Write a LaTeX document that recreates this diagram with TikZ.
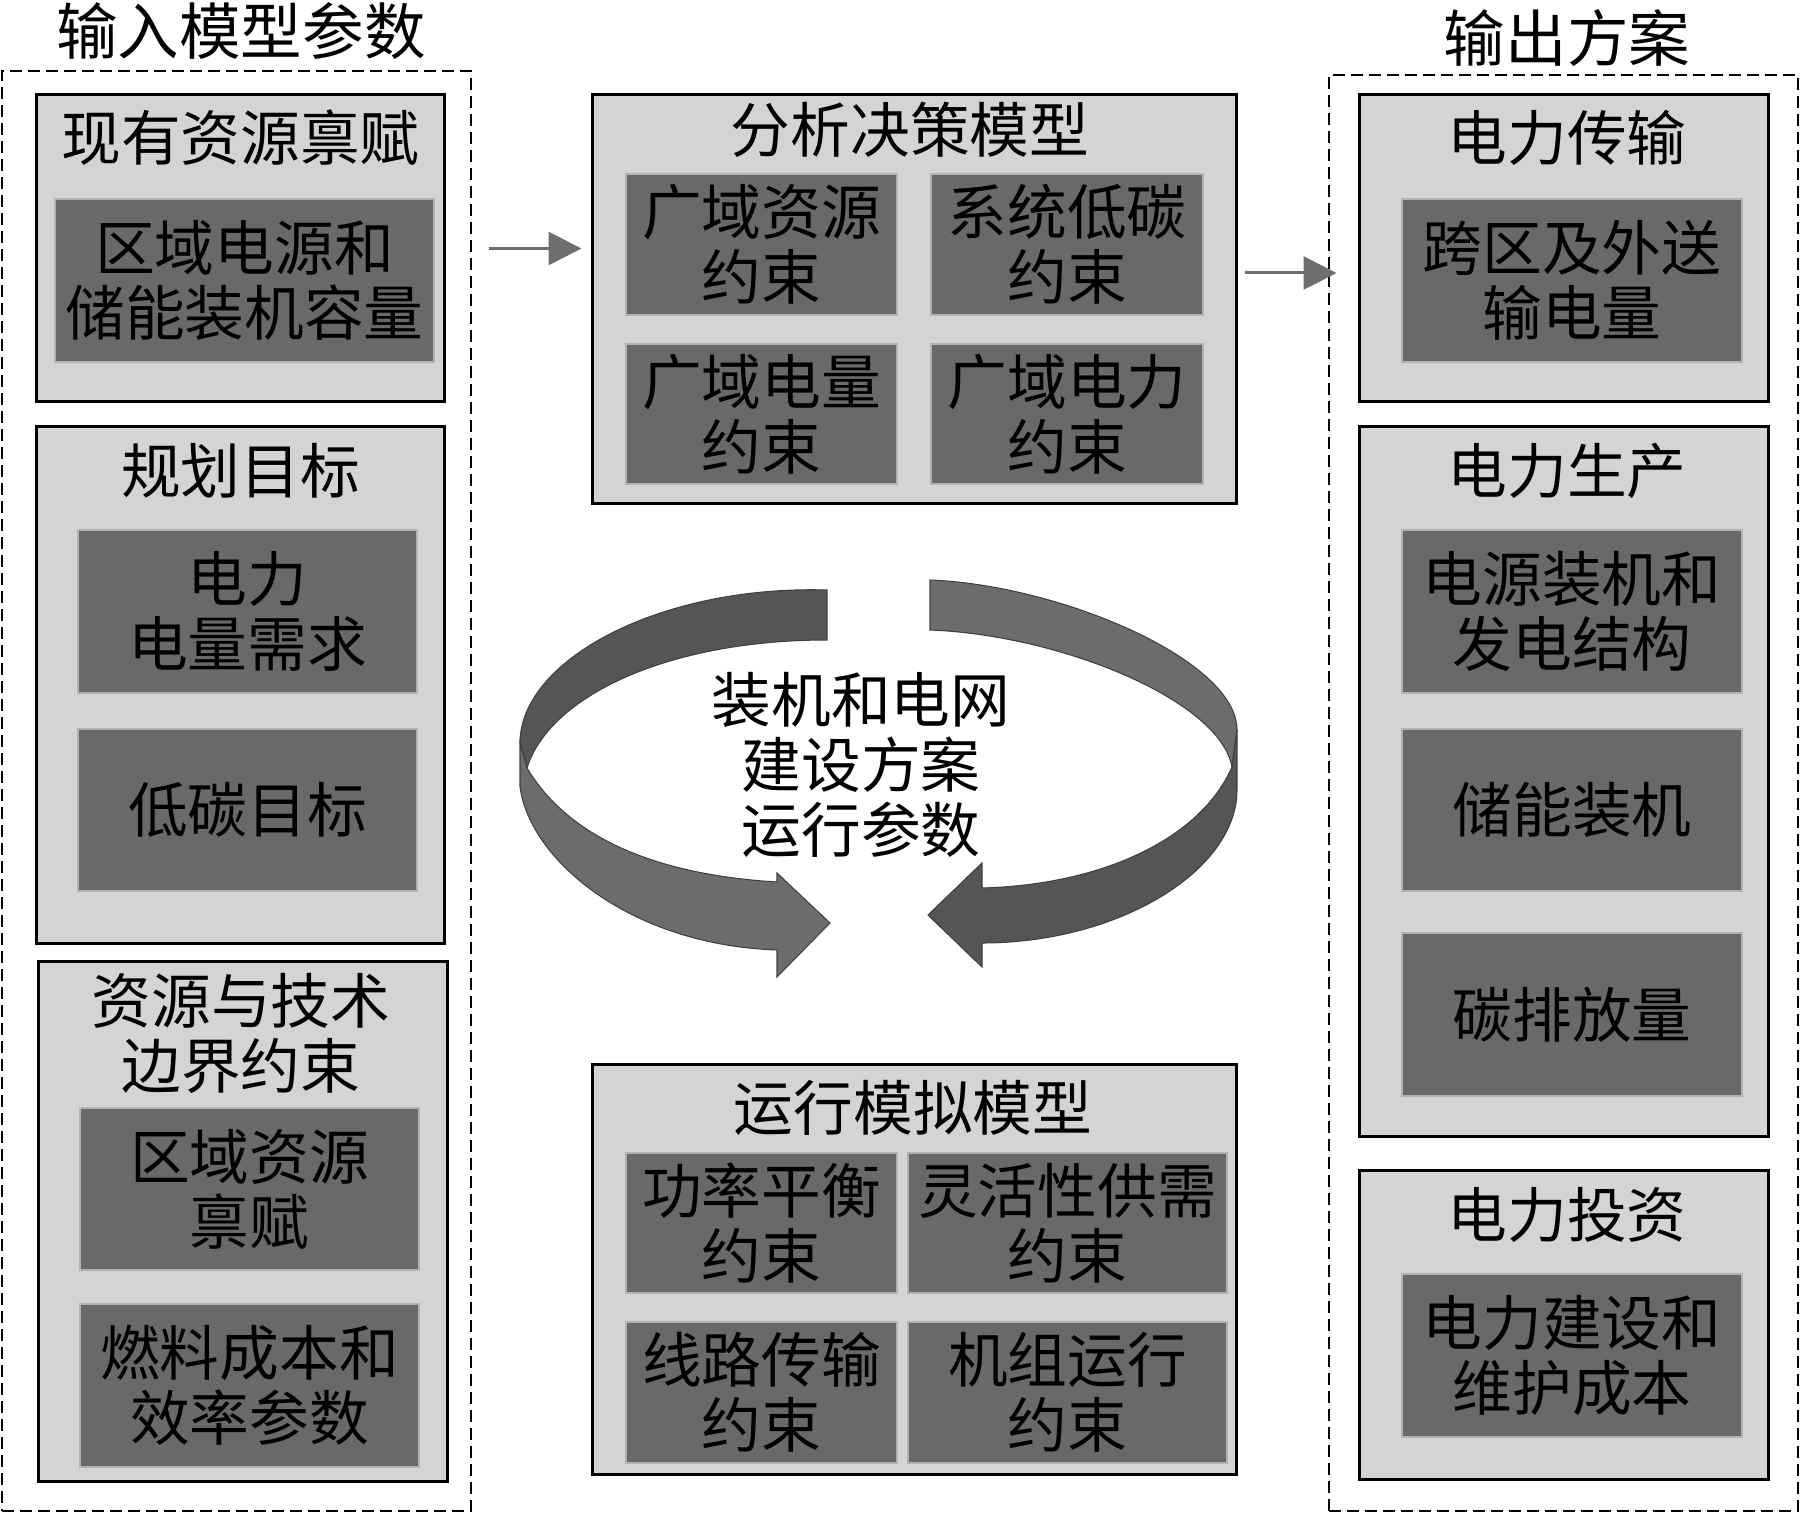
\documentclass[tikz,border=0pt]{standalone}
\usepackage{fontspec}
\setmainfont{Noto Sans CJK SC}
\usetikzlibrary{arrows.meta}
\definecolor{boxgray}{HTML}{D4D4D4}
\definecolor{cellgray}{HTML}{696969}
\definecolor{ribdark}{HTML}{555555}
\definecolor{riblight}{HTML}{6C6C6C}
\definecolor{linkgray}{HTML}{6E6E6E}

\begin{document}
\begin{tikzpicture}[
  every node/.style={font=\fontsize{17pt}{18.5pt}\selectfont, align=center, inner sep=0pt},
  grp/.style={draw, dash pattern=on 0.12cm off 0.06cm, line width=0.026cm},
  box/.style={draw, fill=boxgray, line width=0.03cm},
  cell/.style={draw=black!30, fill=cellgray, line width=0.02cm},
  flow/.style={draw=linkgray, line width=0.03cm, -{Triangle[length=0.33cm,width=0.33cm]}},
  rib/.style={draw=black!75, line width=0.3pt}]

\useasboundingbox (0,0) rectangle (18,-15.13);

\node[grp, minimum width=4.69cm, minimum height=14.40cm] (input) at (2.365,-7.91) {};
\node[font=\fontsize{17.5pt}{19pt}\selectfont] (inputt) at (2.41,-0.31) {输入模型参数};

\node[box, minimum width=4.07cm, minimum height=3.07cm] (l1) at (2.405,-2.485) {};
\node (l1t) at (2.405,-1.38) {现有资源禀赋};
\node[cell, minimum width=3.79cm, minimum height=1.63cm] (l1a) at (2.445,-2.805) {区域电源和\\储能装机容量};

\node[box, minimum width=4.07cm, minimum height=5.17cm] (l2) at (2.405,-6.855) {};
\node (l2t) at (2.405,-4.71) {规划目标};
\node[cell, minimum width=3.39cm, minimum height=1.63cm] (l2a) at (2.475,-6.115) {电力\\电量需求};
\node[cell, minimum width=3.39cm, minimum height=1.62cm] (l2b) at (2.475,-8.10) {低碳目标};

\node[box, minimum width=4.08cm, minimum height=5.19cm] (l3) at (2.43,-12.215) {};
\node (l3t) at (2.41,-10.33) {资源与技术\\边界约束};
\node[cell, minimum width=3.39cm, minimum height=1.62cm] (l3a) at (2.495,-11.89) {区域资源\\禀赋};
\node[cell, minimum width=3.39cm, minimum height=1.63cm] (l3b) at (2.495,-13.855) {燃料成本和\\效率参数};

\node[box, minimum width=6.44cm, minimum height=4.09cm] (ctop) at (9.14,-2.995) {};
\node (ctopt) at (9.10,-1.30) {分析决策模型};
\node[cell, minimum width=2.71cm, minimum height=1.41cm] (c1) at (7.615,-2.445) {广域资源\\约束};
\node[cell, minimum width=2.72cm, minimum height=1.41cm] (c2) at (10.67,-2.445) {系统低碳\\约束};
\node[cell, minimum width=2.71cm, minimum height=1.40cm] (c3) at (7.615,-4.14) {广域电量\\约束};
\node[cell, minimum width=2.72cm, minimum height=1.40cm] (c4) at (10.67,-4.14) {广域电力\\约束};

\node[box, minimum width=6.44cm, minimum height=4.09cm] (cbot) at (9.14,-12.695) {};
\node (cbott) at (9.13,-11.08) {运行模拟模型};
\node[cell, minimum width=2.71cm, minimum height=1.40cm] (d1) at (7.615,-12.23) {功率平衡\\约束};
\node[cell, minimum width=3.19cm, minimum height=1.40cm] (d2) at (10.675,-12.23) {灵活性供需\\约束};
\node[cell, minimum width=2.71cm, minimum height=1.41cm] (d3) at (7.615,-13.925) {线路传输\\约束};
\node[cell, minimum width=3.19cm, minimum height=1.41cm] (d4) at (10.675,-13.925) {机组运行\\约束};

\node[grp, minimum width=4.69cm, minimum height=14.36cm] (output) at (15.635,-7.93) {};
\node[font=\fontsize{17.5pt}{19pt}\selectfont] (outputt) at (15.67,-0.38) {输出方案};

\node[box, minimum width=4.09cm, minimum height=3.07cm] (r1) at (15.635,-2.485) {};
\node (r1t) at (15.67,-1.38) {电力传输};
\node[cell, minimum width=3.40cm, minimum height=1.63cm] (r1a) at (15.72,-2.805) {跨区及外送\\输电量};

\node[box, minimum width=4.09cm, minimum height=7.10cm] (r2) at (15.635,-7.82) {};
\node (r2t) at (15.67,-4.71) {电力生产};
\node[cell, minimum width=3.40cm, minimum height=1.63cm] (r2a) at (15.72,-6.115) {电源装机和\\发电结构};
\node[cell, minimum width=3.40cm, minimum height=1.62cm] (r2b) at (15.72,-8.10) {储能装机};
\node[cell, minimum width=3.40cm, minimum height=1.63cm] (r2c) at (15.72,-10.145) {碳排放量};

\node[box, minimum width=4.09cm, minimum height=3.08cm] (r3) at (15.635,-13.25) {};
\node (r3t) at (15.67,-12.15) {电力投资};
\node[cell, minimum width=3.40cm, minimum height=1.63cm] (r3a) at (15.72,-13.555) {电力建设和\\维护成本};

\draw[flow, shorten <=0.43cm, shorten >=0.09cm] (l1.east) -- (l1.east -| ctop.west);
\draw[flow, shorten <=0.07cm, shorten >=0.21cm] ([yshift=0.265cm]ctop.east) -- ([yshift=0.265cm]ctop.east -| r1.west);

\filldraw[rib, fill=ribdark] (8.27,-5.90) .. controls (6.60,-5.85) and (5.20,-6.60) .. (5.20,-7.43)
  -- (5.27,-7.68) .. controls (5.50,-6.95) and (6.70,-6.40) .. (8.27,-6.40) -- cycle;
\filldraw[rib, fill=riblight] (5.20,-7.43) -- (5.20,-7.87) .. controls (5.30,-8.60) and (6.30,-9.45) .. (7.77,-9.50)
  -- (7.77,-9.77) -- (8.30,-9.23) -- (7.77,-8.73) -- (7.77,-8.82)
  .. controls (6.60,-8.75) and (5.70,-8.40) .. (5.27,-7.68) -- cycle;

\filldraw[rib, fill=riblight] (9.30,-5.80) .. controls (10.60,-5.85) and (12.37,-6.60) .. (12.37,-7.30)
  -- (12.32,-7.67) .. controls (12.20,-7.00) and (10.60,-6.35) .. (9.30,-6.30) -- cycle;
\filldraw[rib, fill=ribdark] (12.37,-7.30) -- (12.37,-7.90) .. controls (12.37,-8.70) and (11.20,-9.43) .. (9.82,-9.43)
  -- (9.82,-9.67) -- (9.28,-9.15) -- (9.82,-8.63) -- (9.82,-8.88)
  .. controls (11.00,-8.85) and (12.00,-8.40) .. (12.32,-7.67) -- cycle;

\node (plan) at (8.61,-7.65) {装机和电网\\建设方案\\运行参数};

\end{tikzpicture}
\end{document}
